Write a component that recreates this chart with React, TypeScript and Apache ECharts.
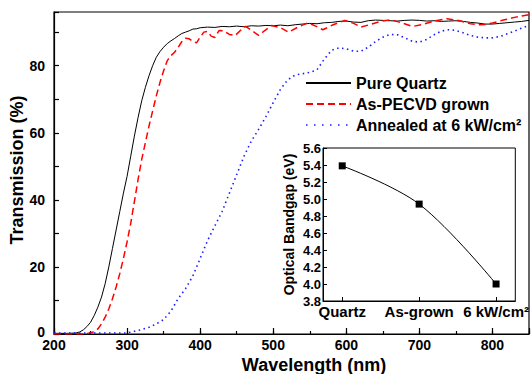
import React, { useEffect, useRef } from "react";
import * as echarts from "echarts";

// Transmission spectra (wavelength in nm, transmission in %)
const quartzWl = [200, 220, 230, 235, 240, 245, 250, 255, 260, 265, 270, 275, 280, 285, 290, 295, 300, 305, 310, 315, 320, 325, 330, 335, 340, 345, 350, 355, 360, 365, 370, 375, 380, 385, 390, 395, 400, 410, 420, 430, 440, 450, 460, 470, 480, 490, 500, 510, 520, 530, 540, 550, 560, 570, 580, 590, 600, 610, 620, 630, 640, 650, 660, 670, 680, 690, 700, 710, 720, 730, 740, 750, 760, 770, 780, 790, 800, 810, 820, 830, 840, 850];
const quartzT = [0.2, 0.2, 0.3, 0.6, 1.2, 2.2, 3.5, 5.5, 8, 11, 15, 20, 25.5, 31, 36.5, 42, 47, 53, 59, 64.5, 69.5, 73.5, 77, 80, 82.5, 84.2, 85.5, 86.6, 87.4, 88.1, 88.9, 89.6, 90, 90.4, 90.9, 91, 91.3, 91.5, 91.4, 91.7, 91.6, 91.8, 91.6, 91.9, 91.8, 92.0, 91.9, 92.1, 91.9, 92.2, 92.4, 92.6, 92.5, 92.8, 92.9, 93.2, 93.3, 93.0, 92.9, 93.4, 93.6, 93.5, 93.4, 93.3, 93.5, 93.6, 93.5, 93.3, 93.4, 93.2, 93.3, 93.4, 93.2, 92.9, 92.7, 92.4, 92.4, 92.6, 92.8, 93.0, 93.2, 93.5];

const pecvdWl = [200, 240, 250, 255, 260, 265, 270, 275, 280, 285, 290, 295, 300, 305, 310, 315, 320, 325, 330, 335, 340, 345, 350, 355, 360, 365, 370, 375, 380, 385, 390, 395, 400, 405, 410, 415, 420, 426, 432, 440, 448, 455, 462, 470, 480, 488, 498, 510, 521, 533, 548, 558, 568, 582, 598, 610, 620, 635, 648, 661, 675, 691, 705, 720, 738, 755, 770, 780, 790, 800, 815, 830, 840, 850];
const pecvdT = [0, 0, 0.3, 0.7, 1.5, 3, 5, 7.5, 10.5, 14, 18, 22.5, 27.5, 33, 39.5, 46, 52, 57, 62, 66.5, 71, 75, 78.5, 81.5, 83, 84, 85.5, 87.2, 88.2, 88, 87.2, 86.8, 88.5, 90, 90.2, 88.8, 88.4, 90.5, 90.4, 89.3, 89, 90.5, 91.7, 90.6, 89, 90.4, 92, 91.3, 90, 91.4, 92.8, 91.8, 90.7, 92.2, 93.5, 92.6, 91.5, 92.4, 93.3, 93.7, 92.8, 91.7, 92.3, 93.3, 94, 93.4, 92.5, 92.2, 92.3, 92.7, 93.6, 94.4, 94.8, 95.2];

const annealWl = [200, 250, 300, 310, 320, 330, 340, 350, 360, 370, 380, 390, 400, 410, 420, 430, 440, 450, 460, 470, 480, 490, 500, 510, 520, 530, 540, 550, 560, 570, 580, 590, 600, 610, 620, 630, 640, 650, 660, 670, 680, 690, 700, 710, 720, 730, 740, 750, 760, 770, 780, 790, 800, 810, 820, 830, 840, 850];
const annealT = [0.3, 0.3, 0.3, 0.8, 1.3, 2, 3, 4.3, 6.8, 10.6, 13.5, 17.3, 22.5, 27.8, 32.2, 36.5, 42, 47.5, 53, 57.5, 61, 64.8, 69, 73, 75.8, 77.2, 77.6, 78, 78.8, 82, 84.6, 85.3, 85, 84.3, 84.3, 85.5, 87.2, 88.5, 89.3, 89.2, 88.3, 87.3, 87, 87.8, 89.2, 90.3, 90.7, 90.5, 89.8, 89, 88.5, 88.3, 88.3, 88.7, 89.5, 90.3, 91.2, 92];

const seriesNames = ["Pure Quartz", "As-PECVD grown", "Annealed at 6 kW/cm\u00B2"];

// Inset: optical bandgap
const insetCats = ["Quartz", "As-grown", "6 kW/cm\u00B2"];
const insetPos = [1, 2, 3];
const bandgap = [5.39, 4.94, 4.0];

const xTicks = [200, 300, 400, 500, 600, 700, 800];

const zip = (a: number[], b: number[]) => a.map((x, i) => [x, b[i]]);

export default function App() {
  const ref = useRef<HTMLDivElement>(null);
  useEffect(() => {
    const chart = echarts.init(ref.current!, null, { renderer: "svg" });
    const font = "Liberation Sans, Arial, sans-serif";
    const bold = { fontFamily: font, fontWeight: "bold" as const, color: "#000" };
    const noSymbol = { color: "rgba(0,0,0,0)", borderColor: "rgba(0,0,0,0)", borderWidth: 0 };
    chart.setOption({
      animation: false,
      backgroundColor: "#fff",
      textStyle: { fontFamily: font },
      grid: [
        { left: 54, top: 12, width: 478, height: 322, show: true, borderColor: "#000", borderWidth: 1.2, backgroundColor: "transparent" },
        { left: 323, top: 148, width: 199, height: 153, show: true, borderColor: "#000", borderWidth: 1, backgroundColor: "transparent" },
      ],
      legend: {
        orient: "vertical",
        left: 305,
        top: 75,
        itemWidth: 45,
        itemHeight: 14,
        itemGap: 5,
        padding: 0,
        itemStyle: noSymbol,
        textStyle: { ...bold, fontSize: 16, lineHeight: 16 },
        data: [
          { name: seriesNames[0], itemStyle: noSymbol },
          { name: seriesNames[1], itemStyle: noSymbol },
          { name: seriesNames[2], itemStyle: noSymbol, lineStyle: { type: [1.5, 6.5], width: 1.6 } },
        ],
      },
      xAxis: [
        {
          type: "value", gridIndex: 0, min: 200, max: 850, interval: 100, position: "bottom",
          axisLine: { lineStyle: { color: "#000", width: 1.2 } },
          axisTick: { inside: true, length: 6, lineStyle: { color: "#000", width: 1.2 } },
          axisLabel: { ...bold, fontSize: 14, lineHeight: 10, margin: 6, formatter: (v: number) => (xTicks.includes(v) ? String(v) : "") },
          splitLine: { show: false },
        },
        {
          type: "value", gridIndex: 0, min: 200, max: 850, interval: 50, position: "bottom",
          axisLine: { show: false },
          axisTick: { inside: true, length: 3, lineStyle: { color: "#000", width: 1.2 } },
          axisLabel: { show: false },
          splitLine: { show: false },
        },
        {
          type: "value", gridIndex: 1, min: 0.75, max: 3.25, position: "bottom",
          axisLine: { lineStyle: { color: "#000", width: 1 } },
          axisTick: { inside: true, length: 4, customValues: insetPos, lineStyle: { color: "#000" } },
          axisLabel: { ...bold, fontSize: 15, margin: 3, customValues: insetPos, formatter: (v: number) => insetCats[Math.round(v) - 1] || "" },
          splitLine: { show: false },
        },
      ],
      yAxis: [
        {
          type: "value", gridIndex: 0, min: 0, max: 96, interval: 10,
          axisLine: { lineStyle: { color: "#000", width: 1.2 } },
          axisTick: { inside: true, length: 5, lineStyle: { color: "#000", width: 1.2 } },
          axisLabel: {
            ...bold, fontSize: 14, lineHeight: 10, margin: 9,
            formatter: (v: number) => (v === 0 ? "{z|0}" : v % 20 === 0 ? String(v) : ""),
            rich: { z: { ...bold, fontSize: 14, lineHeight: 10, padding: [0, 0, 4, 0] } },
          },
          splitLine: { show: false },
        },
        {
          type: "value", gridIndex: 1, min: 3.8, max: 5.6, interval: 0.2,
          axisLine: { lineStyle: { color: "#000", width: 1 } },
          axisTick: { inside: true, length: 4, lineStyle: { color: "#000" } },
          axisLabel: { ...bold, fontSize: 13, margin: 2, formatter: (v: number) => v.toFixed(1) },
          splitLine: { show: false },
          name: "Optical Bandgap (eV)",
          nameLocation: "middle",
          nameGap: 27,
          nameTextStyle: { ...bold, fontSize: 14 },
        },
      ],
      series: [
        {
          name: seriesNames[0], type: "line", xAxisIndex: 0, yAxisIndex: 0, symbol: "none",
          color: "#000", lineStyle: { color: "#000", width: 1 },
          data: zip(quartzWl, quartzT),
        },
        {
          name: seriesNames[1], type: "line", xAxisIndex: 0, yAxisIndex: 0, symbol: "none",
          color: "#ff0000", lineStyle: { color: "#ff0000", width: 1.5, type: [7, 4] },
          data: zip(pecvdWl, pecvdT),
        },
        {
          name: seriesNames[2], type: "line", xAxisIndex: 0, yAxisIndex: 0, symbol: "none",
          color: "#1a1aff", lineStyle: { color: "#1a1aff", width: 1.6, type: [1.5, 3.5] },
          data: zip(annealWl, annealT),
        },
        {
          name: "Bandgap", type: "line", xAxisIndex: 2, yAxisIndex: 1, smooth: 0.35,
          symbol: "rect", symbolSize: 7, color: "#000",
          lineStyle: { color: "#000", width: 1 },
          itemStyle: { color: "#000" },
          data: zip(insetPos, bandgap),
        },
      ],
      graphic: [
        { type: "text", x: 314, y: 365, style: { text: "Wavelength (nm)", font: `bold 18px ${font}`, fill: "#000", align: "center", verticalAlign: "middle" } },
        { type: "text", x: 17, y: 170, rotation: Math.PI / 2, style: { text: "Transmission (%)", font: `bold 18px ${font}`, fill: "#000", align: "center", verticalAlign: "middle" } },
      ],
    });
    return () => chart.dispose();
  }, []);
  return <div ref={ref} style={{ position: "fixed", left: 0, top: 0, width: 532, height: 374 }} />;
}
